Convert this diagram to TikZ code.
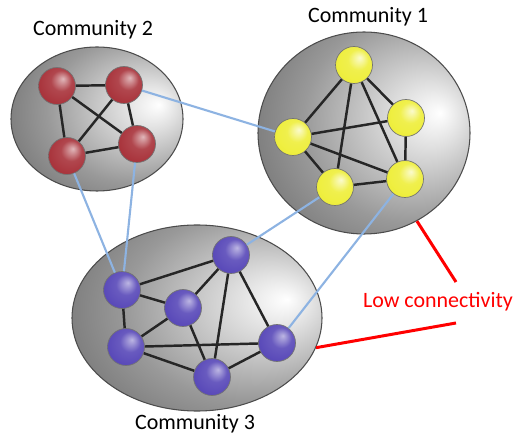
\documentclass[tikz,border=0pt]{standalone}
\usepackage{fontspec}
\setmainfont{Carlito}
\usetikzlibrary{shapes.geometric}

\definecolor{linkblue}{HTML}{8DB3E2}
\definecolor{redball}{HTML}{A8323A}
\definecolor{yellowball}{HTML}{EEEE3A}
\definecolor{purpleball}{HTML}{5848B8}

\pgfdeclareradialshading{commshade}{\pgfpoint{18bp}{5bp}}{color(0bp)=(white); color(8bp)=(gray!25); color(25bp)=(gray!80); color(42bp)=(gray!80!black); color(50bp)=(gray!65!black); color(60bp)=(gray!65!black)}
\pgfdeclareradialshading{redshade}{\pgfpoint{8bp}{10bp}}{color(0bp)=(redball!35!white); color(14bp)=(redball!90!white); color(30bp)=(redball); color(50bp)=(redball!65!black)}
\pgfdeclareradialshading{yellowshade}{\pgfpoint{8bp}{10bp}}{color(0bp)=(yellowball!25!white); color(14bp)=(yellowball!90!white); color(30bp)=(yellowball); color(50bp)=(yellowball!75!black)}
\pgfdeclareradialshading{purpleshade}{\pgfpoint{8bp}{10bp}}{color(0bp)=(purpleball!40!white); color(14bp)=(purpleball!90!white); color(30bp)=(purpleball); color(50bp)=(purpleball!70!black)}

\tikzset{
  comm/.style={ellipse, draw=black!70, line width=0.6pt, shading=commshade, inner sep=0pt},
  ball/.style={circle, minimum size=0.74cm, inner sep=0pt, draw=black!55, line width=0.4pt},
  rnode/.style={ball, shading=redshade},
  ynode/.style={ball, shading=yellowshade},
  pnode/.style={ball, shading=purpleshade},
  inner/.style={line width=1.4pt, black!85},
  bridge/.style={line width=1.2pt, linkblue},
  lbl/.style={font=\fontsize{12.5}{15}\selectfont}
}

\begin{document}
\begin{tikzpicture}[x=0.02cm, y=-0.02cm]
\useasboundingbox (0,0) rectangle (513,438);

\node[comm, minimum width=172*0.02cm, minimum height=144*0.02cm] (c2) at (97,119) {};
\node[comm, minimum width=212*0.02cm, minimum height=202*0.02cm] (c1) at (364,133) {};
\node[comm, minimum width=250*0.02cm, minimum height=186*0.02cm] (c3) at (197,318) {};

\node[lbl] (l2) at (93,30) {Community 2};
\node[lbl] (l1) at (368,17) {Community 1};
\node[lbl] (l3) at (195,424) {Community 3};
\node[lbl, text=red] (low) at (438,302) {Low connectivity};

% community 2
\node[rnode] (r1) at (57,86) {};
\node[rnode] (r2) at (124,85) {};
\node[rnode] (r3) at (67,156) {};
\node[rnode] (r4) at (137,144) {};
% community 1
\node[ynode] (y1) at (354,65) {};
\node[ynode] (y2) at (406,118) {};
\node[ynode] (y3) at (293,137) {};
\node[ynode] (y4) at (335,187) {};
\node[ynode] (y5) at (405,179) {};
% community 3
\node[pnode] (p1) at (122,290) {};
\node[pnode] (p2) at (231,255) {};
\node[pnode] (p3) at (183,308) {};
\node[pnode] (p4) at (126,347) {};
\node[pnode] (p5) at (212,377) {};
\node[pnode] (p6) at (277,343) {};

\draw[inner] (r1) -- (r2) -- (r4) -- (r3) -- (r1) -- (r4);
\draw[inner] (r2) -- (r3);
\draw[inner] (y1) -- (y3) -- (y2) -- (y1) -- (y4) -- (y5) -- (y2);
\draw[inner] (y1) -- (y5) -- (y3) -- (y4);
\draw[inner] (p1) -- (p2) -- (p3) -- (p1) -- (p4) -- (p3) -- (p5) -- (p2) -- (p6) -- (p5) -- (p4) -- (p6);

\draw[bridge] (r2) -- (y3);
\draw[bridge] (r3) -- (p1);
\draw[bridge] (r4) -- (p1);
\draw[bridge] (y4) -- (p2);
\draw[bridge] (y5) -- (p6);

\coordinate (t1) at (456,282);
\coordinate (t2) at (456,323);
\draw[red, line width=1.7pt] (c1.-59) -- (t1);
\draw[red, line width=1.7pt] (t2) -- (c3.-14);
\end{tikzpicture}
\end{document}
